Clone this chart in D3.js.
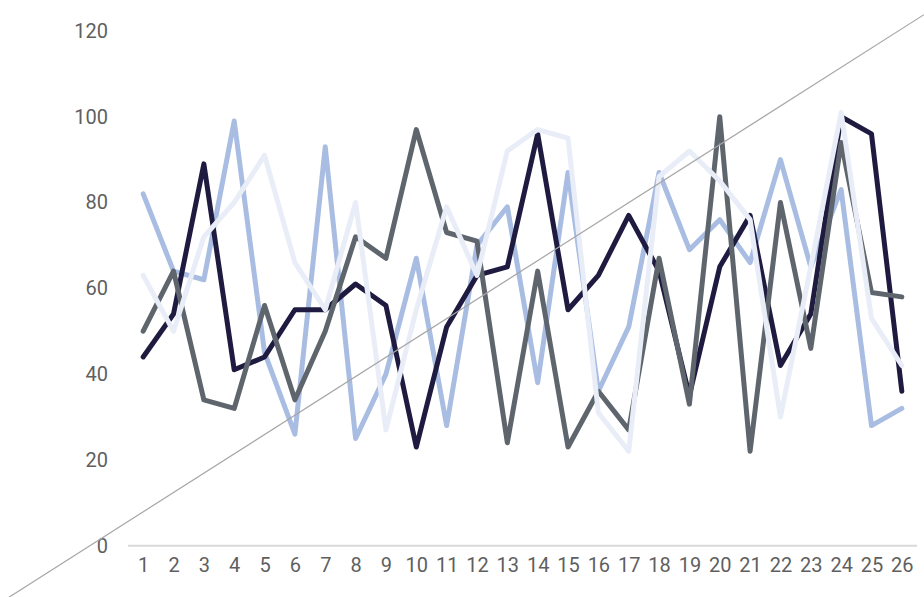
<!DOCTYPE html>
<html>
<head>
<meta charset="utf-8">
<script src="https://cdn.jsdelivr.net/npm/d3@7"></script>
<style>
  html, body { margin: 0; padding: 0; background: #ffffff; }
  svg { display: block; }
  text { font-family: Roboto, "Liberation Sans", sans-serif; }
</style>
</head>
<body>
<svg id="chart" width="924" height="597"></svg>
<script>
// Categories along the x axis
const categories = d3.range(1, 27);

// Series values
const seriesPale  = [82, 64, 62, 99, 45, 26, 93, 25, 40, 67, 28, 70, 79, 38, 87, 36, 51, 87, 69, 76, 66, 90, 65, 83, 28, 32];
const seriesNavy  = [44, 54, 89, 41, 44, 55, 55, 61, 56, 23, 51, 63, 65, 96, 55, 63, 77, 64, 35, 65, 77, 42, 54, 100, 96, 36];
const seriesGrey  = [50, 64, 34, 32, 56, 34, 50, 72, 67, 97, 73, 71, 24, 64, 23, 36, 27, 67, 33, 100, 22, 80, 46, 94, 59, 58];
const seriesFaint = [63, 50, 72, 80, 91, 66, 55, 80, 27, 55, 79, 63, 92, 97, 95, 31, 22, 86, 92, 85, 76, 30, 65, 101, 53, 42];

// Y axis tick labels
const yTicks = [0, 20, 40, 60, 80, 100, 120];

// Straight reference line: value at the first and last category
const guideValues = [7.9, 120.5];

const series = [
  { name: "pale",  values: seriesPale,  color: "#a9bde2" },
  { name: "navy",  values: seriesNavy,  color: "#1f1b40" },
  { name: "grey",  values: seriesGrey,  color: "#5f656c" },
  { name: "faint", values: seriesFaint, color: "#e9edf7" }
];

const W = 924, H = 597;
const svg = d3.select("#chart");

const x = d3.scalePoint()
  .domain(categories)
  .range([128, 917])
  .padding(0.5);

const y = d3.scaleLinear()
  .domain([0, 120])
  .range([545.7, 30.9]);

const labelFont = "Roboto, 'Liberation Sans', sans-serif";

// Y axis labels (no line, no ticks)
const yAxis = d3.axisLeft(y).tickValues(yTicks).tickSize(0).tickPadding(0);
const gy = svg.append("g").attr("transform", "translate(108,0)").call(yAxis);
gy.select(".domain").remove();
gy.selectAll("text")
  .attr("x", 0)
  .attr("fill", "#5f5f5f")
  .style("font-size", "20px")
  .style("font-family", labelFont);

// X axis: light baseline with category labels
const xAxis = d3.axisBottom(x).tickSize(0).tickPadding(0);
const gx = svg.append("g").attr("transform", `translate(0,${y(0)})`).call(xAxis);
gx.select(".domain")
  .attr("d", `M${x.range()[0]},0H${x.range()[1]}`)
  .attr("stroke", "#d9d9d9")
  .attr("stroke-width", 2);
gx.selectAll("text")
  .attr("y", 20)
  .attr("dy", "0.32em")
  .attr("fill", "#5f5f5f")
  .style("font-size", "20px")
  .style("font-family", labelFont);

// Series lines
const line = d3.line()
  .x((d, i) => x(categories[i]))
  .y(d => y(d));

svg.append("g")
  .selectAll("path")
  .data(series)
  .join("path")
  .attr("d", d => line(d.values))
  .attr("fill", "none")
  .attr("stroke", d => d.color)
  .attr("stroke-width", 5)
  .attr("stroke-linejoin", "round")
  .attr("stroke-linecap", "round");

// Reference line, extended across the whole drawing
const x0 = x(categories[0]), x1 = x(categories[categories.length - 1]);
const ya = y(guideValues[0]), yb = y(guideValues[1]);
const slope = (yb - ya) / (x1 - x0);
svg.append("line")
  .attr("x1", 0)
  .attr("y1", ya + slope * (0 - x0))
  .attr("x2", W)
  .attr("y2", ya + slope * (W - x0))
  .attr("stroke", "#a6a6a6")
  .attr("stroke-width", 1.2);
</script>
</body>
</html>
